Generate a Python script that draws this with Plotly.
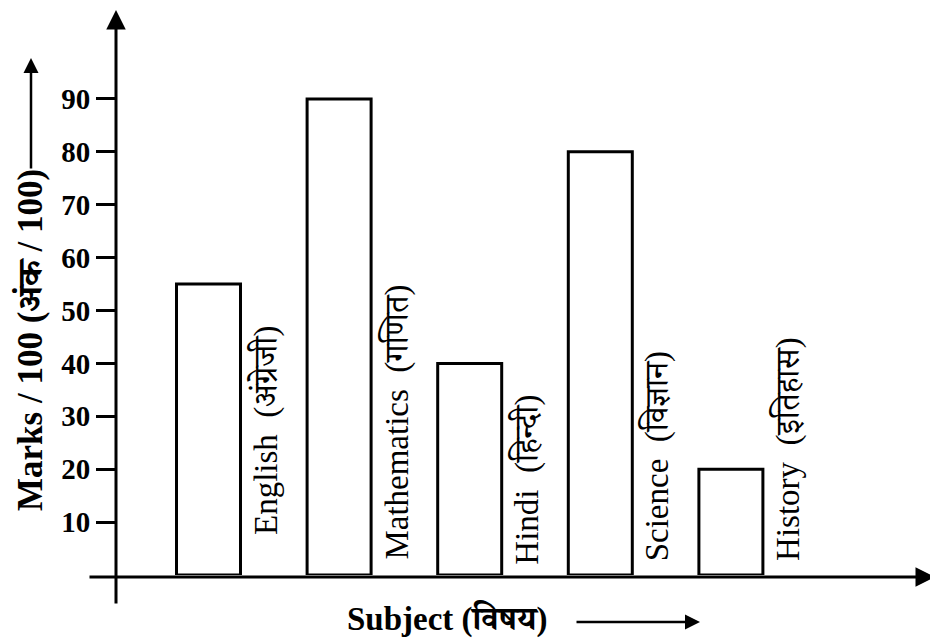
import plotly.graph_objects as go

subjects = ["English", "Mathematics", "Hindi", "Science", "History"]
labels = ["English  (अंग्रेजी)", "Mathematics  (गणित)", "Hindi  (हिन्दी)",
          "Science  (विज्ञान)", "History  (इतिहास)"]
marks = [55, 90, 40, 80, 20]
yticks = [10, 20, 30, 40, 50, 60, 70, 80, 90]

# page offset of the figure inside the browser window
OFF = 8
W, H = 938, 644
ML, MR, MT, MB = 116 - OFF, 0, 10 - OFF, H - (575 - OFF)
PW, PH = W - ML - MR, H - MT - MB
SERIF = "Liberation Serif, Noto Serif Devanagari, Noto Sans Devanagari, serif"
LABEL_LIFT = [38, 13, 8, 12, 12]   # vertical lift (px) of each rotated label

fig = go.Figure()
fig.add_trace(go.Bar(
    x=subjects, y=marks, width=0.49,
    marker=dict(color="white", line=dict(color="black", width=3)),
    hoverinfo="x+y",
))

ann = []
for s, lab, lift in zip(subjects, labels, LABEL_LIFT):
    ann.append(dict(x=s, y=0, xref="x", yref="y", text=lab, showarrow=False,
                    textangle=-90, xshift=57, xanchor="center", yanchor="bottom",
                    yshift=lift, font=dict(family=SERIF, size=33, color="black")))


def px_x(p):
    return (p - OFF - ML) / PW


def px_y(p):
    return (H - MB - (p - OFF)) / PH


# axis arrows
ann.append(dict(x=px_x(935), y=px_y(577), xref="paper", yref="paper", text="",
                showarrow=True, ax=-(935 - 88), ay=0, arrowhead=2, arrowsize=1.3,
                arrowwidth=3, arrowcolor="black"))
ann.append(dict(x=px_x(116), y=px_y(10), xref="paper", yref="paper", text="",
                showarrow=True, ax=0, ay=605 - 10, arrowhead=2, arrowsize=1.3,
                arrowwidth=3, arrowcolor="black"))
# y title
ann.append(dict(x=px_x(30), y=px_y(340), xref="paper", yref="paper",
                xanchor="center", yanchor="middle",
                text="<b>Marks / 100 (अंक / 100)</b>", showarrow=False, textangle=-90,
                font=dict(family=SERIF, size=35, color="black")))
ann.append(dict(x=px_x(31), y=px_y(58), xref="paper", yref="paper", text="",
                showarrow=True, ax=0, ay=112, arrowhead=2, arrowsize=1.2,
                arrowwidth=2.5, arrowcolor="black"))
# x title
ann.append(dict(x=px_x(447), y=px_y(619), xref="paper", yref="paper",
                xanchor="center", yanchor="middle",
                text="<b>Subject (विषय)</b>", showarrow=False,
                font=dict(family=SERIF, size=33, color="black")))
ann.append(dict(x=px_x(700), y=px_y(622), xref="paper", yref="paper", text="",
                showarrow=True, ax=-125, ay=0, arrowhead=2, arrowsize=1.2,
                arrowwidth=2.5, arrowcolor="black"))

r0 = -(208.5 - 116) / 130.6
fig.update_layout(
    width=W, height=H,
    margin=dict(l=ML, r=MR, t=MT, b=MB),
    paper_bgcolor="white", plot_bgcolor="white",
    showlegend=False,
    annotations=ann,
    xaxis=dict(range=[r0, r0 + PW / 130.6], showticklabels=False, ticks="",
               showgrid=False, zeroline=False, showline=False),
    yaxis=dict(range=[0, PH / 5.29], tickvals=yticks, ticks="outside", ticklen=19,
               tickwidth=3, tickcolor="black", showgrid=False, zeroline=False,
               showline=False,
               tickfont=dict(family=SERIF, size=29, color="black", weight="bold")),
)
fig.write_html("out.html")
